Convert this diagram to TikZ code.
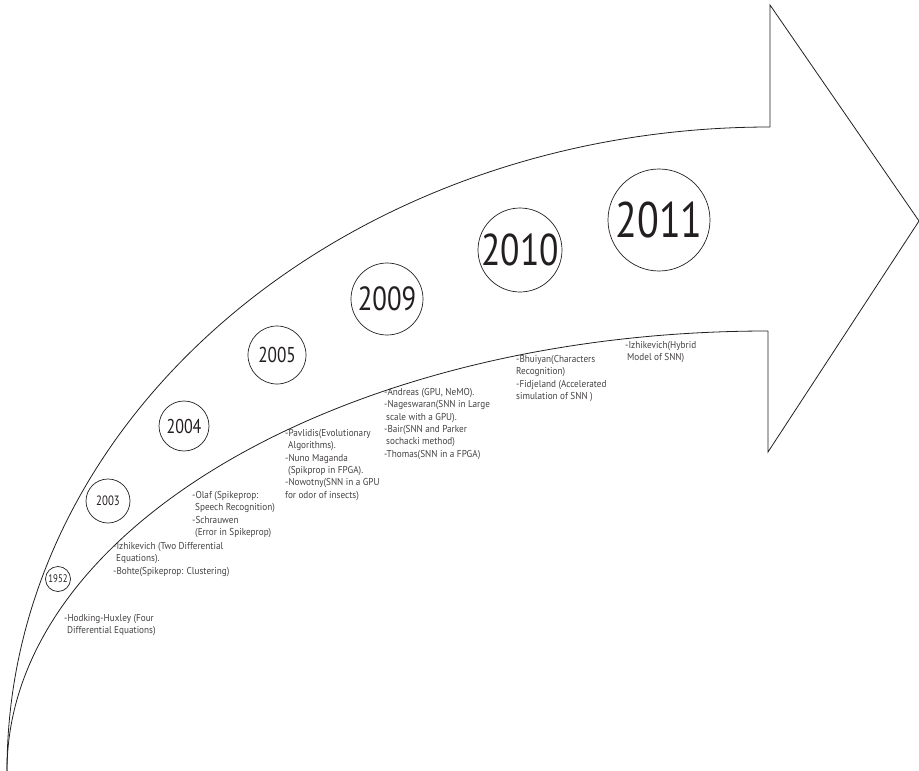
\documentclass[tikz,border=0pt]{standalone}
\usepackage{fontspec}
\setmainfont[FakeStretch=0.92]{PT Sans}
\newfontfamily\yrfont[FakeStretch=0.8]{PT Sans}
\definecolor{ink}{HTML}{231F20}
\begin{document}
\begin{tikzpicture}[x=1pt,y=-1pt,
  outline/.style={draw=ink,line width=0.8pt,line join=miter},
  yearc/.style={circle,draw=ink,line width=0.7pt,inner sep=0pt,text=ink},
  note/.style={anchor=north west,inner sep=0pt,align=left,text=ink!85,
    font=\fontsize{10}{12.4}\selectfont}]
\useasboundingbox (0,0) rectangle (919,771);
% arrow body (two quarter ellipses)
\coordinate (ob) at (7,771);
\coordinate (ot) at (770,127);
\coordinate (it) at (768,331);
\draw[outline] (ob) arc[start angle=180,end angle=270,x radius=763,y radius=644];
\draw[outline] (ob) arc[start angle=180,end angle=270,x radius=761,y radius=440];
% arrow head
\coordinate (ht) at (770,5);
\coordinate (tip) at (919,221);
\coordinate (hb) at (768,452);
\draw[outline] (ot) -- (ht) -- (tip) -- (hb) -- (it);
% year circles
\node[yearc,minimum size=25pt,font=\yrfont\fontsize{11}{11}\selectfont] (c1952) at (58,579) {1952};
\node[yearc,minimum size=44pt,font=\yrfont\fontsize{13.5}{13.5}\selectfont] (c2003) at (108,501) {2003};
\node[yearc,minimum size=50pt,font=\yrfont\fontsize{20}{20}\selectfont] (c2004) at (184,426) {2004};
\node[yearc,minimum size=58pt,font=\yrfont\fontsize{21.5}{21.5}\selectfont] (c2005) at (277,355) {2005};
\node[yearc,minimum size=72pt,font=\yrfont\fontsize{33.5}{33.5}\selectfont] (c2009) at (387,299) {2009};
\node[yearc,minimum size=84pt,font=\yrfont\fontsize{44.5}{44.5}\selectfont] (c2010) at (520,250) {2010};
\node[yearc,minimum size=102pt,font=\yrfont\fontsize{50}{50}\selectfont] (c2011) at (659,220) {2011};
% notes
\node[note] (n1952) at (64,614) {-Hodking-Huxley (Four\\\hspace{3pt}Differential Equations)};
\node[note] (n2003) at (113,542) {-Izhikevich (Two Differential\\\hspace{3pt}Equations).\\-Bohte(Spikeprop: Clustering)};
\node[note] (n2004) at (192,491) {-Olaf (Spikeprop:\\\hspace{3pt}Speech Recognition)\\-Schrauwen\\\hspace{3pt}(Error in Spikeprop)};
\node[note] (n2005) at (285,429) {-Pavlidis(Evolutionary\\\hspace{3pt}Algorithms).\\-Nuno Maganda\\\hspace{3pt}(Spikprop in FPGA).\\-Nowotny(SNN in a GPU\\for odor of insects)};
\node[note] (n2009) at (384,388) {-Andreas (GPU, NeMO).\\-Nageswaran(SNN in Large\\\hspace{2pt}scale with a GPU).\\-Bair(SNN and Parker\\\hspace{2pt}sochacki method)\\-Thomas(SNN in a FPGA)};
\node[note] (n2010) at (516,355) {-Bhuiyan(Characters\\Recognition)\\-Fidjeland (Accelerated\\simulation of SNN )};
\node[note] (n2011) at (625,341) {-Izhikevich(Hybrid\\\hspace{2pt}Model of SNN)};
\end{tikzpicture}
\end{document}
